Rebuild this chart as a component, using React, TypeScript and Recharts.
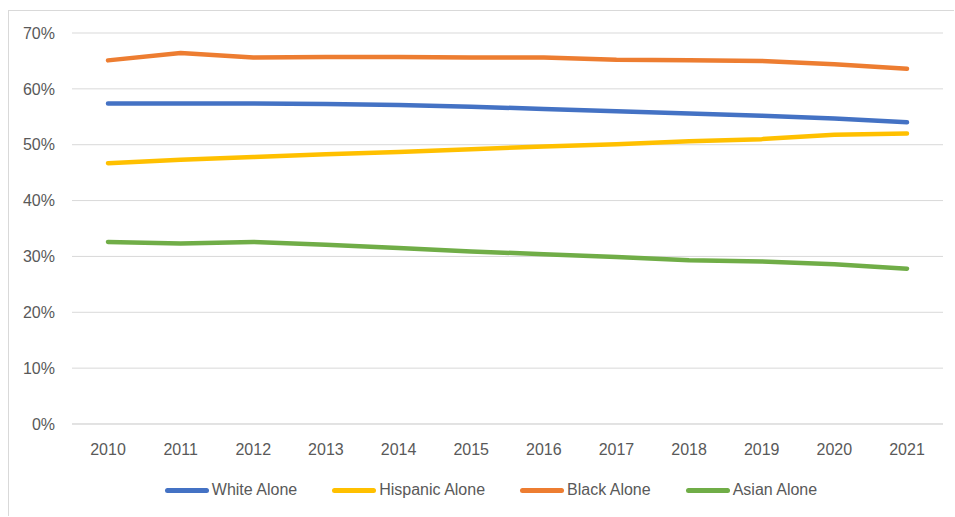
import React from "react";
import { LineChart, Line, XAxis, YAxis, CartesianGrid, Legend } from "recharts";

const years = ["2010", "2011", "2012", "2013", "2014", "2015", "2016", "2017", "2018", "2019", "2020", "2021"];
const whiteAlone = [57.4, 57.4, 57.4, 57.3, 57.1, 56.8, 56.4, 56.0, 55.6, 55.2, 54.7, 54.0];
const hispanicAlone = [46.7, 47.3, 47.8, 48.3, 48.7, 49.2, 49.7, 50.1, 50.6, 51.0, 51.8, 52.0];
const blackAlone = [65.1, 66.4, 65.6, 65.7, 65.7, 65.6, 65.6, 65.2, 65.1, 65.0, 64.4, 63.6];
const asianAlone = [32.6, 32.3, 32.6, 32.1, 31.5, 30.9, 30.4, 29.9, 29.3, 29.1, 28.6, 27.8];
const yTicks = [0, 10, 20, 30, 40, 50, 60, 70];

const series = [
  { key: "white", name: "White Alone", values: whiteAlone, color: "#4472C4" },
  { key: "hispanic", name: "Hispanic Alone", values: hispanicAlone, color: "#FFC000" },
  { key: "black", name: "Black Alone", values: blackAlone, color: "#ED7D31" },
  { key: "asian", name: "Asian Alone", values: asianAlone, color: "#70AD47" },
];
const seriesOrder = series.map((s) => s.name);

const data = years.map((y, i) => {
  const row: Record<string, string | number> = { year: y };
  series.forEach((s) => {
    row[s.key] = s.values[i];
  });
  return row;
});

const FONT = "'Liberation Sans', Arial, sans-serif";
const TEXT = "#595959";
const GRID = "#d9d9d9";

const renderLegend = (props: any) => {
  const payload = [...(props.payload || [])].sort(
    (a: any, b: any) => seriesOrder.indexOf(a.value) - seriesOrder.indexOf(b.value)
  );
  return (
    <div
      style={{
        display: "flex",
        justifyContent: "center",
        alignItems: "center",
        height: 20,
        paddingLeft: 39,
        fontFamily: FONT,
        fontSize: 16,
        color: TEXT,
      }}
    >
      {payload.map((p: any, i: number) => (
        <div key={i} style={{ display: "flex", alignItems: "center", marginRight: i < payload.length - 1 ? 35 : 0 }}>
          <span
            style={{
              display: "inline-block",
              width: 44,
              height: 5,
              borderRadius: 3,
              background: p.color,
            }}
          />
          <span style={{ marginLeft: 3, whiteSpace: "nowrap" }}>{p.value}</span>
        </div>
      ))}
    </div>
  );
};

export default function App() {
  return (
    <div>
      <div
        style={{
          position: "absolute",
          left: 8,
          top: 10,
          width: 946,
          height: 506,
          borderTop: `1px solid ${GRID}`,
          borderLeft: `1px solid ${GRID}`,
          boxSizing: "border-box",
        }}
      />
      <div style={{ position: "absolute", left: 0, top: 0, width: 955, height: 517 }}>
        <LineChart width={955} height={517} data={data} margin={{ top: 33, right: 12, bottom: 17, left: 0 }}>
          <CartesianGrid vertical={false} stroke={GRID} strokeWidth={1} />
          <XAxis
            dataKey="year"
            padding={{ left: 36, right: 36 }}
            height={56}
            tickLine={false}
            tickSize={18}
            tickMargin={2}
            axisLine={{ stroke: GRID }}
            interval={0}
            tick={{ fill: TEXT, fontSize: 16, fontFamily: FONT }}
          />
          <YAxis
            domain={[0, 70]}
            ticks={yTicks}
            width={72}
            tickLine={false}
            axisLine={false}
            tickSize={15}
            tickMargin={2}
            tickFormatter={(v: number) => `${v}%`}
            tick={{ fill: TEXT, fontSize: 16, fontFamily: FONT }}
          />
          <Legend verticalAlign="bottom" content={renderLegend} />
          {series.map((s) => (
            <Line
              key={s.key}
              type="linear"
              dataKey={s.key}
              name={s.name}
              stroke={s.color}
              strokeWidth={4.5}
              strokeLinecap="round"
              strokeLinejoin="round"
              dot={false}
              activeDot={false}
              isAnimationActive={false}
            />
          ))}
        </LineChart>
      </div>
    </div>
  );
}
